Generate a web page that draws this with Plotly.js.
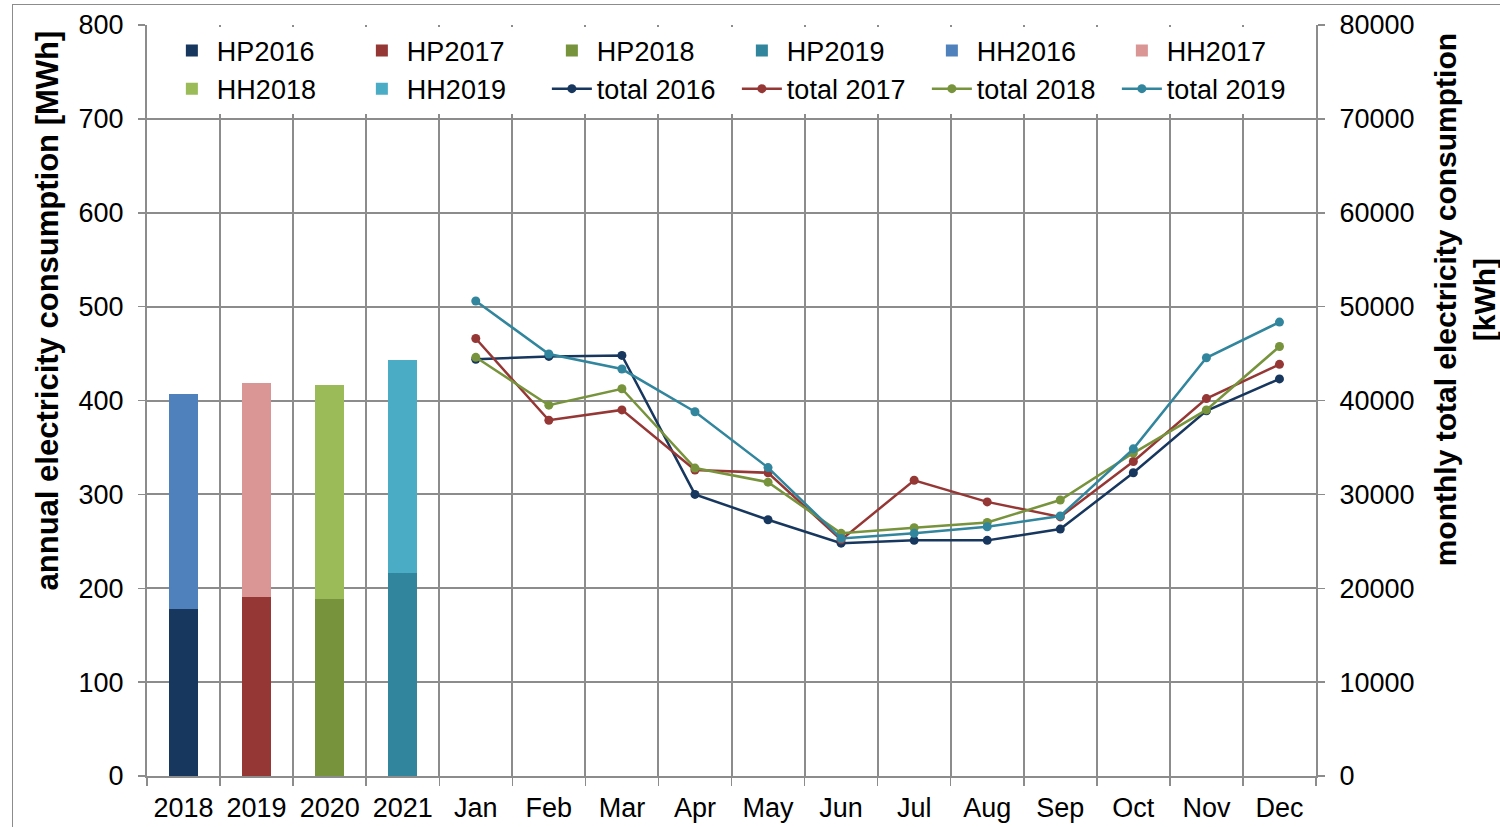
<!DOCTYPE html>
<html>
<head>
<meta charset="utf-8">
<script src="https://cdn.plot.ly/plotly-3.0.1.min.js"></script>
<style>
html,body{margin:0;padding:0;background:#fff;}
#chart{width:1500px;height:827px;}
#frame{position:absolute;left:12px;top:4px;width:1500px;height:840px;border:1.5px solid #8c8c8c;pointer-events:none;}
</style>
</head>
<body>
<div id="chart"></div>
<div id="frame"></div>
<script>
// categories on the shared x axis
const categories = ['2018','2019','2020','2021','Jan','Feb','Mar','Apr','May','Jun','Jul','Aug','Sep','Oct','Nov','Dec'];
const barCategories = ['2018','2019','2020','2021'];
const months = ['Jan','Feb','Mar','Apr','May','Jun','Jul','Aug','Sep','Oct','Nov','Dec'];

// annual consumption [MWh]: heat pump (HP) and household (HH) parts
const hpNames = ['HP2016','HP2017','HP2018','HP2019'];
const hhNames = ['HH2016','HH2017','HH2018','HH2019'];
const hpValues = [178, 191, 189, 216];
const hhValues = [229, 228, 228, 227];

// monthly total consumption [kWh]
const total2016 = [44400, 44700, 44800, 30000, 27300, 24800, 25100, 25100, 26300, 32300, 38900, 42300];
const total2017 = [46600, 37900, 39000, 32600, 32300, 25150, 31500, 29200, 27600, 33500, 40200, 43850];
const total2018 = [44600, 39500, 41250, 32800, 31300, 25850, 26450, 27000, 29400, 34400, 39000, 45750];
const total2019 = [50600, 44950, 43350, 38800, 32850, 25300, 25850, 26550, 27700, 34850, 44550, 48350];
const totalNames = ['total 2016','total 2017','total 2018','total 2019'];

const leftTitle = 'annual electricity consumption [MWh]';
const rightTitle = 'monthly total electricity consumption<br>[kWh]';

const hpColors = ['#17375E','#953735','#77933C','#31859C'];
const hhColors = ['#4F81BD','#D99694','#9BBB59','#4BACC6'];
const lineColors = ['#17375E','#953735','#77933C','#31859C'];

const traces = [];
hpNames.forEach((n,i)=>{
  traces.push({type:'bar', name:n, x:[barCategories[i]], y:[hpValues[i]], marker:{color:hpColors[i]}, width:0.4, xaxis:'x', yaxis:'y'});
});
hhNames.forEach((n,i)=>{
  traces.push({type:'bar', name:n, x:[barCategories[i]], y:[hhValues[i]], marker:{color:hhColors[i]}, width:0.4, xaxis:'x', yaxis:'y'});
});
[total2016,total2017,total2018,total2019].forEach((vals,i)=>{
  traces.push({type:'scatter', mode:'lines+markers', name:totalNames[i], x:months, y:vals,
    line:{color:lineColors[i], width:2.5}, marker:{color:lineColors[i], size:9}, xaxis:'x', yaxis:'y2'});
});

const axisGray = '#8c8c8c';
const layout = {
  width:1500, height:827,
  margin:{l:147, r:184, t:25, b:51},
  paper_bgcolor:'#fff', plot_bgcolor:'#fff',
  barmode:'stack',
  font:{family:'Liberation Sans, Arial, sans-serif', color:'#000', size:27},
  showlegend:true,
  legend:{orientation:'h', x:0.017, y:0.998, xanchor:'left', yanchor:'top',
    bgcolor:'rgba(255,255,255,1)', font:{size:27}, entrywidth:135, entrywidthmode:'pixels',
    traceorder:'normal', itemwidth:40},
  xaxis:{type:'category', categoryorder:'array', categoryarray:categories, range:[-0.5,15.5],
    tickson:'boundaries', ticks:'outside', ticklen:8, tickcolor:axisGray, tickwidth:1.5,
    showgrid:true, gridcolor:axisGray, gridwidth:2,
    showline:true, linecolor:axisGray, linewidth:2, zeroline:false, ticklabelstandoff:7,
    tickfont:{size:27}},
  yaxis:{range:[0,800], dtick:100, showgrid:true, gridcolor:axisGray, gridwidth:2,
    ticks:'outside', ticklen:7, tickcolor:axisGray, tickwidth:1.5,
    showline:true, linecolor:axisGray, linewidth:2, zeroline:false, ticklabelstandoff:9,
    tickfont:{size:27}},
  yaxis2:{range:[0,80000], dtick:10000, tickformat:'d', overlaying:'y', side:'right', showgrid:false,
    ticks:'outside', ticklen:7, tickcolor:axisGray, tickwidth:1.5,
    showline:true, linecolor:axisGray, linewidth:2, zeroline:false, ticklabelstandoff:9,
    tickfont:{size:27}},
  annotations:[
    {text:'<b>'+leftTitle+'</b>', textangle:-90, xref:'paper', yref:'paper', x:-0.0855, y:0.62,
      xanchor:'center', yanchor:'middle', showarrow:false, font:{size:31}},
    {text:'<b>'+rightTitle+'</b>', textangle:-90, xref:'paper', yref:'paper', x:1.127, y:0.634,
      xanchor:'center', yanchor:'middle', showarrow:false, font:{size:30}}
  ]
};

Plotly.newPlot('chart', traces, layout, {displayModeBar:false, staticPlot:true});
</script>
</body>
</html>
